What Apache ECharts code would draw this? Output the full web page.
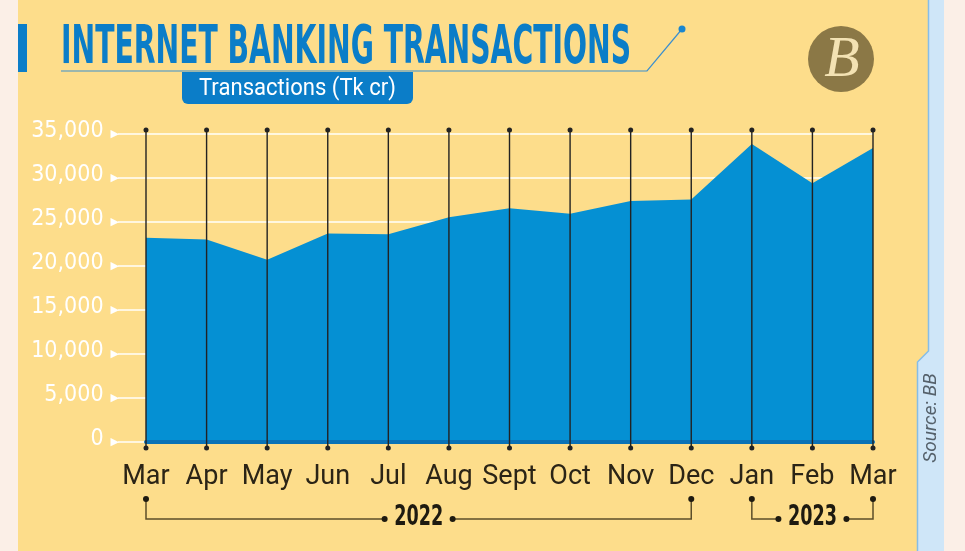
<!DOCTYPE html>
<html><head><meta charset="utf-8">
<script src="https://cdn.jsdelivr.net/npm/echarts/dist/echarts.min.js"></script>
<style>html,body{margin:0;padding:0;background:#fbefe7;}#c{width:965px;height:551px;}</style>
</head><body><div id="c"></div>
<script>
// ---- data ----
const categories = ['Mar','Apr','May','Jun','Jul','Aug','Sept','Oct','Nov','Dec','Jan','Feb','Mar'];
const transactions = [23200, 23000, 20700, 23700, 23600, 25550, 26550, 25950, 27400, 27550, 33850, 29400, 33400];
const yMin = 0, yMax = 35000, yStep = 5000;
const yearGroups = [
  {label: '2022', from: 0, to: 9},
  {label: '2023', from: 10, to: 12}
];
const titleText = 'INTERNET BANKING TRANSACTIONS';
const unitText = 'Transactions (Tk cr)';
const sourceText = 'Source: BB';

// ---- styling ----
const NARROW = "'Liberation Sans Narrow','DejaVu Sans Condensed',Roboto,sans-serif";
const BLUE = '#0b7dc8';
const AREA = '#0590d3';
const YELLOW = '#fddd8b';

function fitScale(text, font, target) {
  const c = document.createElement('canvas').getContext('2d');
  c.font = font;
  return target / c.measureText(text).width;
}

const chart = echarts.init(document.getElementById('c'), null, {renderer: 'canvas'});

const titleFont = "bold 54px " + NARROW;
const unitFont = "24px Roboto";
const yearFont = "bold 28px " + NARROW;

const staticGraphics = [
  {type: 'rect', shape: {x: 0, y: 0, width: 18, height: 551}, style: {fill: '#fbefe7'}, silent: true},
  {type: 'rect', shape: {x: 944, y: 0, width: 21, height: 551}, style: {fill: '#fbefe7'}, silent: true},
  {type: 'polygon', shape: {points: [[928,0],[928,351],[917,362],[917,551],[944,551],[944,0]]}, style: {fill: '#cfe6f8'}, silent: true},
  {type: 'polyline', shape: {points: [[928.5,0],[928.5,351],[917.5,362],[917.5,551]]}, style: {stroke: '#86bde6', lineWidth: 1.5, fill: null}, silent: true},
  {type: 'rect', shape: {x: 18, y: 24, width: 9, height: 48}, style: {fill: BLUE}, silent: true},
  {type: 'text', x: 61, y: 49, scaleX: fitScale(titleText, titleFont, 570), style: {text: titleText, font: titleFont, fill: BLUE, verticalAlign: 'middle', align: 'left'}, silent: true},
  {type: 'polyline', shape: {points: [[61,71],[647,71],[682,29]]}, style: {stroke: '#3b8fcf', lineWidth: 1.2, fill: null}, silent: true},
  {type: 'circle', shape: {cx: 682, cy: 29, r: 3.5}, style: {fill: '#1a86cf'}, silent: true},
  {type: 'rect', shape: {x: 182, y: 72, width: 231, height: 32, r: [0,0,6,6]}, style: {fill: BLUE}, silent: true},
  {type: 'text', x: 297.5, y: 89, scaleX: fitScale(unitText, unitFont, 197), style: {text: unitText, font: unitFont, fill: '#ffffff', align: 'center', verticalAlign: 'middle'}, silent: true},
  {type: 'circle', shape: {cx: 841, cy: 59, r: 33}, style: {fill: '#8b7846'}, silent: true},
  {type: 'text', x: 842, y: 61, style: {text: 'B', font: "italic 58px 'Liberation Serif',serif", fill: '#f3e2b3', align: 'center', verticalAlign: 'middle'}, silent: true},
  {type: 'text', x: 931, y: 418, rotation: Math.PI / 2, style: {text: sourceText, font: "italic 19px Roboto", fill: '#55616b', align: 'center', verticalAlign: 'middle'}, silent: true}
];

chart.setOption({
  backgroundColor: YELLOW,
  animation: false,
  grid: {left: 146, right: 92, top: 134, bottom: 109},
  xAxis: {
    type: 'category', data: categories, boundaryGap: false, z: 3,
    axisLine: {lineStyle: {color: '#0a72b6', width: 4}},
    axisTick: {show: false},
    splitLine: {show: false},
    axisLabel: {color: '#2b2416', fontSize: 27, fontFamily: 'Roboto', margin: 22, interval: 0}
  },
  yAxis: {
    type: 'value', min: yMin, max: yMax, interval: yStep,
    axisLine: {show: false},
    axisTick: {show: true, length: 28, lineStyle: {color: '#fff6df', width: 2}},
    splitLine: {lineStyle: {color: 'rgba(255,248,228,0.95)', width: 2}},
    axisLabel: {
      margin: 27,
      formatter: v => '{v|' + v.toLocaleString('en-US') + '}{g|}{t|\u25B6}',
      rich: {
        v: {color: '#ffffff', fontSize: 23, fontWeight: 500, fontFamily: NARROW, padding: [0, 0, 5, 0]},
        g: {width: 7},
        t: {color: '#ffffff', fontSize: 11, fontFamily: 'DejaVu Sans'}
      }
    }
  },
  series: [
    {
      type: 'line', data: transactions, symbol: 'none', z: 2,
      lineStyle: {width: 0}, areaStyle: {color: AREA, opacity: 1}
    },
    {
      type: 'custom', z: 5, clip: false,
      data: categories.map((c, i) => [i, yMax]),
      encode: {x: 0, y: 1},
      renderItem: (params, api) => {
        const i = api.value(0);
        const top = api.coord([i, yMax]);
        const bot = api.coord([i, yMin]);
        const t = top[1] - 4, b = bot[1] + 6;
        return {type: 'group', children: [
          {type: 'line', shape: {x1: top[0], y1: t, x2: bot[0], y2: b}, style: {stroke: '#222', lineWidth: 1.4}},
          {type: 'circle', shape: {cx: top[0], cy: t, r: 2.5}, style: {fill: '#222'}},
          {type: 'circle', shape: {cx: bot[0], cy: b, r: 2.5}, style: {fill: '#222'}}
        ]};
      }
    }
  ],
  graphic: {elements: staticGraphics}
});

// year brackets positioned from the axis scale
const bracketEls = [];
yearGroups.forEach(g => {
  const a = chart.convertToPixel({seriesIndex: 0}, [g.from, 0]);
  const b = chart.convertToPixel({seriesIndex: 0}, [g.to, 0]);
  const dotY = a[1] + 57, lineY = a[1] + 77;
  const cx = (a[0] + b[0]) / 2;
  const stroke = '#5c4e2a';
  bracketEls.push(
    {type: 'polyline', shape: {points: [[a[0], dotY], [a[0], lineY], [cx - 34, lineY]]}, style: {stroke, lineWidth: 1.5, fill: null}, silent: true},
    {type: 'polyline', shape: {points: [[cx + 34, lineY], [b[0], lineY], [b[0], dotY]]}, style: {stroke, lineWidth: 1.5, fill: null}, silent: true},
    {type: 'circle', shape: {cx: a[0], cy: dotY, r: 3}, style: {fill: '#1e1a10'}, silent: true},
    {type: 'circle', shape: {cx: b[0], cy: dotY, r: 3}, style: {fill: '#1e1a10'}, silent: true},
    {type: 'circle', shape: {cx: cx - 34, cy: lineY, r: 3}, style: {fill: '#1e1a10'}, silent: true},
    {type: 'circle', shape: {cx: cx + 34, cy: lineY, r: 3}, style: {fill: '#1e1a10'}, silent: true},
    {type: 'text', x: cx, y: lineY - 1, scaleX: fitScale(g.label, yearFont, 49), style: {text: g.label, font: yearFont, fill: '#1e1a10', align: 'center', verticalAlign: 'middle'}, silent: true}
  );
});
chart.setOption({graphic: {elements: staticGraphics.concat(bracketEls)}});
</script>
</body></html>
